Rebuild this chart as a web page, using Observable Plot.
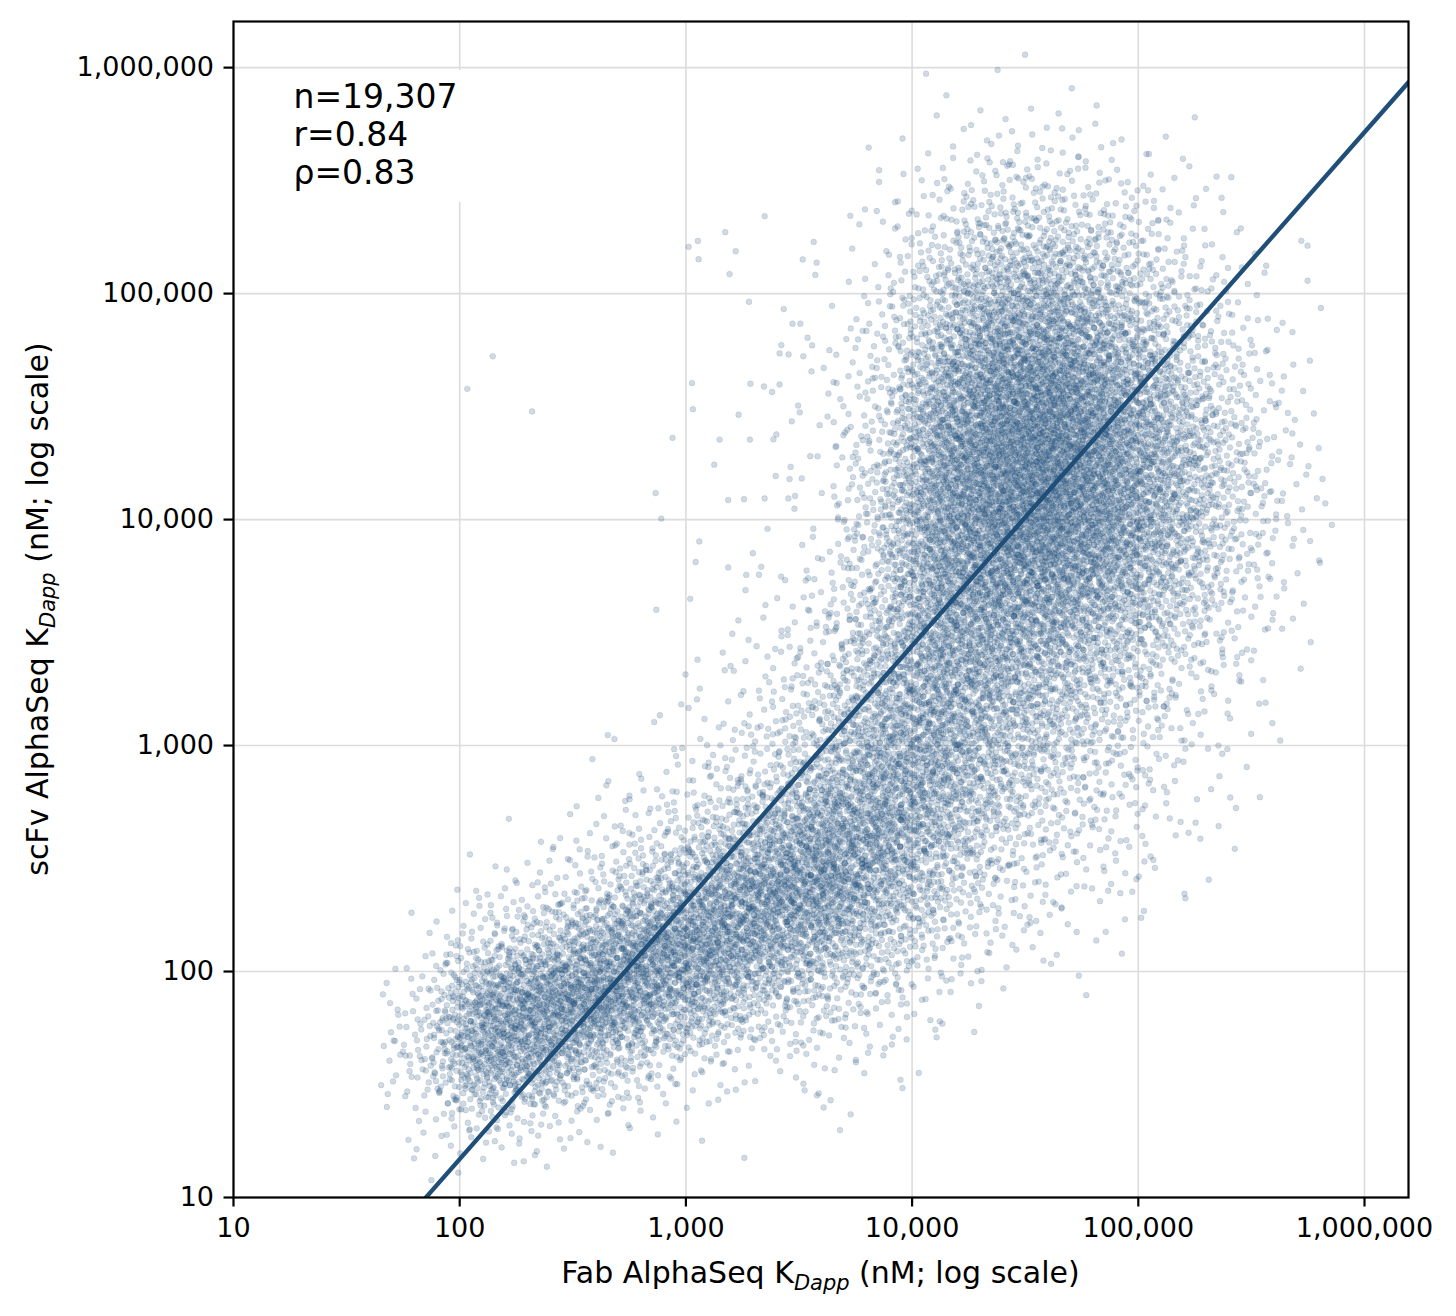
<!DOCTYPE html>
<html>
<head>
<meta charset="utf-8">
<script src="https://cdn.jsdelivr.net/npm/d3@7"></script>
<script src="https://cdn.jsdelivr.net/npm/@observablehq/plot@0.6"></script>
<style>
  body { margin: 0; background: #fff; }
  #chart svg { font-family: "DejaVu Sans", sans-serif; display: block; }
</style>
</head>
<body>
<div id="chart"></div>
<script>
// ---------------- data ----------------
const xTicks = [10, 100, 1000, 10000, 100000, 1000000];
const yTicks = [10, 100, 1000, 10000, 100000, 1000000];
const xDomain = [10, 1565000];
const yDomain = [10, 1600000];

// density grid: number of points per cell of 0.25 decade (log10 nM)
const xBinStartsLog = [1.5, 1.75, 2.0, 2.25, 2.5, 2.75, 3.0, 3.25, 3.5, 3.75, 4.0, 4.25, 4.5, 4.75, 5.0, 5.25, 5.5, 5.75];
const yBinStartsLog = [1.0, 1.25, 1.5, 1.75, 2.0, 2.25, 2.5, 2.75, 3.0, 3.25, 3.5, 3.75, 4.0, 4.25, 4.5, 4.75, 5.0, 5.25, 5.5, 5.75];
const binWidthLog = 0.25;
const cellCounts = [
  [0, 2, 2, 0, 0, 0, 0, 0, 0, 0, 0, 0, 0, 0, 0, 0, 0, 0],
  [0, 19, 54, 37, 13, 7, 4, 0, 4, 0, 0, 0, 0, 0, 0, 0, 0, 0],
  [0, 72, 281, 226, 128, 51, 26, 13, 17, 9, 0, 0, 0, 0, 0, 0, 0, 0],
  [0, 40, 262, 345, 357, 255, 170, 85, 60, 34, 13, 0, 0, 0, 0, 0, 0, 0],
  [0, 7, 51, 119, 221, 323, 323, 247, 170, 94, 43, 17, 9, 4, 0, 0, 0, 0],
  [0, 0, 9, 17, 51, 128, 238, 323, 323, 196, 94, 38, 21, 13, 4, 0, 0, 0],
  [0, 0, 0, 4, 13, 34, 85, 170, 281, 255, 170, 77, 43, 26, 9, 3, 0, 0],
  [0, 0, 0, 0, 4, 10, 26, 60, 153, 238, 221, 128, 77, 43, 17, 5, 0, 0],
  [0, 0, 0, 0, 0, 4, 10, 26, 85, 187, 238, 170, 119, 68, 30, 9, 2, 0],
  [0, 0, 0, 0, 0, 0, 4, 17, 51, 145, 238, 221, 170, 111, 60, 21, 4, 0],
  [0, 0, 0, 0, 0, 0, 0, 7, 26, 102, 255, 281, 255, 187, 111, 43, 9, 0],
  [0, 0, 0, 0, 0, 0, 0, 0, 13, 85, 272, 340, 357, 281, 170, 68, 16, 0],
  [0, 0, 0, 0, 0, 0, 0, 0, 10, 77, 281, 374, 408, 323, 196, 85, 20, 0],
  [0, 0, 0, 0, 0, 0, 0, 0, 9, 60, 255, 366, 417, 306, 187, 77, 18, 0],
  [0, 0, 0, 0, 0, 0, 0, 0, 7, 38, 196, 323, 366, 255, 145, 51, 10, 0],
  [0, 0, 0, 0, 0, 0, 0, 0, 4, 21, 128, 238, 255, 170, 85, 26, 5, 0],
  [0, 0, 0, 0, 0, 0, 0, 0, 3, 10, 68, 136, 145, 94, 43, 13, 2, 0],
  [0, 0, 0, 0, 0, 0, 0, 0, 0, 4, 26, 60, 60, 38, 17, 5, 0, 0],
  [0, 0, 0, 0, 0, 0, 0, 0, 0, 0, 9, 17, 17, 10, 5, 0, 0, 0],
  [0, 0, 0, 0, 0, 0, 0, 0, 0, 0, 0, 3, 3, 0, 0, 0, 0, 0]
];

// individually visible sparse points (Fab KDapp, scFv KDapp), nM
const outlierFab = [1028, 1130, 1138, 1493, 1660, 1560, 2228, 1901, 3784, 3733, 5333, 6194, 6982, 6427, 7145,
  140, 108, 209, 1064, 1074, 873, 735, 778, 740, 1045, 1146, 1104, 1334, 1409, 1710, 1928, 2213, 2404, 2594,
  1919, 1538, 1807, 2228, 2838, 2495, 2904, 2512, 2938, 1538, 1849, 2104, 1977, 2296, 2958, 3206, 2642, 2844,
  3304, 3451, 3614, 4426, 11530, 671000, 560000, 560000, 188000, 226000, 255000, 103000, 160000, 10700, 51];
const outlierScFv = [161000, 171000, 142000, 187000, 154000, 122000, 220000, 92000, 137000, 121000, 221000, 236000, 232000, 443000, 312000,
  52800, 37900, 30100, 40200, 30800, 23000, 13100, 10100, 3990, 4460, 8000, 6490, 17500, 22600, 29100, 39900, 38800, 36700, 39600,
  22600, 12200, 12300, 12400, 12400, 15600, 17100, 23800, 27200, 6140, 5690, 5700, 7100, 9100, 73600, 73600, 59200, 53800,
  52800, 63800, 59000, 88300, 940000, 11800, 163000, 114000, 387, 1000, 589, 173, 221, 35.6, 49.5];

// fitted line in log-log space: log10(y) = slope * log10(x) + intercept
const fitSlope = 1.136;
const fitIntercept = -1.102;
const fitX = [70.8, 1565000];

const statLines = ["n=19,307", "r=0.84", "\u03c1=0.83"];

// ---------------- build marks ----------------
// spread each cell's count over (and a little past) its cell with a deterministic
// Halton (2,3) low-discrepancy pattern warped to a triangular profile, so cells blend
const halton = (i, b) => { let f = 1, h = 0; while (i > 0) { f /= b; h += f * (i % b); i = Math.floor(i / b); } return h; };
const tri = u => u < 0.5 ? Math.sqrt(2 * u) - 1 : 1 - Math.sqrt(2 * (1 - u));
const spread = 1.05;
const points = [];
let idx = 0;
cellCounts.forEach((row, r) => row.forEach((count, c) => {
  for (let k = 0; k < count; k++, idx++) {
    const u = halton(idx + 1, 2);
    const v = halton(idx + 1, 3);
    const lx = xBinStartsLog[c] + binWidthLog * (0.5 + spread * tri(u));
    const ly = yBinStartsLog[r] + binWidthLog * (0.5 + spread * tri(v));
    points.push({fab: 10 ** lx, scfv: 10 ** ly});
  }
}));
outlierFab.forEach((v, i) => points.push({fab: v, scfv: outlierScFv[i]}));

const fitLine = fitX.map(x => ({x, y: 10 ** (fitSlope * Math.log10(x) + fitIntercept)}));

const color = "#1f4e79";

const plot = Plot.plot({
  width: 1456,
  height: 1316,
  marginLeft: 233,
  marginRight: 48,
  marginTop: 21,
  marginBottom: 119,
  style: {fontFamily: "DejaVu Sans", fontSize: "27px", color: "black", background: "white"},
  x: {type: "log", domain: xDomain},
  y: {type: "log", domain: yDomain},
  marks: [
    Plot.gridX(xTicks, {stroke: "#dcdcdc", strokeOpacity: 1, strokeWidth: 1.6}),
    Plot.gridY(yTicks, {stroke: "#dcdcdc", strokeOpacity: 1, strokeWidth: 1.6}),
    Plot.dot(points, {x: "fab", y: "scfv", r: 2.9, fill: color, fillOpacity: 0.21, stroke: color, strokeOpacity: 0.12, strokeWidth: 1, clip: true}),
    Plot.line(fitLine, {x: "x", y: "y", stroke: color, strokeWidth: 4.4, clip: true}),
    Plot.frame({stroke: "black", strokeWidth: 2.2}),
    Plot.axisX(xTicks, {tickFormat: d3.format(","), tickSize: 9.5, tickPadding: 11, fontSize: 27, strokeWidth: 2.2, label: null}),
    Plot.axisY(yTicks, {tickFormat: d3.format(","), tickSize: 9.5, tickPadding: 10, fontSize: 27, strokeWidth: 2.2, label: null}),
    Plot.text([statLines.join("\n")], {frameAnchor: "top-left", dx: 60, dy: 59, lineAnchor: "top", textAnchor: "start", lineHeight: 1.16, fontSize: 33, fill: "black"})
  ]
});

document.getElementById("chart").appendChild(plot);

const svg = d3.select(plot);
// white box behind the statistics text
const textGroups = svg.selectAll("g[aria-label='text']").nodes();
const statGroup = textGroups[textGroups.length - 1];
const box = document.createElementNS("http://www.w3.org/2000/svg", "rect");
box.setAttribute("x", 284); box.setAttribute("y", 70);
box.setAttribute("width", 182); box.setAttribute("height", 132);
box.setAttribute("fill", "white");
statGroup.parentNode.insertBefore(box, statGroup);

// axis titles with subscript
const xl = svg.append("text")
  .attr("x", (233 + 1408) / 2).attr("y", 1283)
  .attr("text-anchor", "middle").attr("font-size", 30).attr("fill", "black");
xl.append("tspan").text("Fab AlphaSeq K");
xl.append("tspan").attr("font-style", "italic").attr("font-size", 21).attr("dy", 7).text("Dapp");
xl.append("tspan").attr("dy", -7).text(" (nM; log scale)");

const yl = svg.append("text")
  .attr("transform", `translate(48,${(21 + 1197) / 2}) rotate(-90)`)
  .attr("text-anchor", "middle").attr("font-size", 30).attr("fill", "black");
yl.append("tspan").text("scFv AlphaSeq K");
yl.append("tspan").attr("font-style", "italic").attr("font-size", 21).attr("dy", 7).text("Dapp");
yl.append("tspan").attr("dy", -7).text(" (nM; log scale)");
</script>
</body>
</html>
